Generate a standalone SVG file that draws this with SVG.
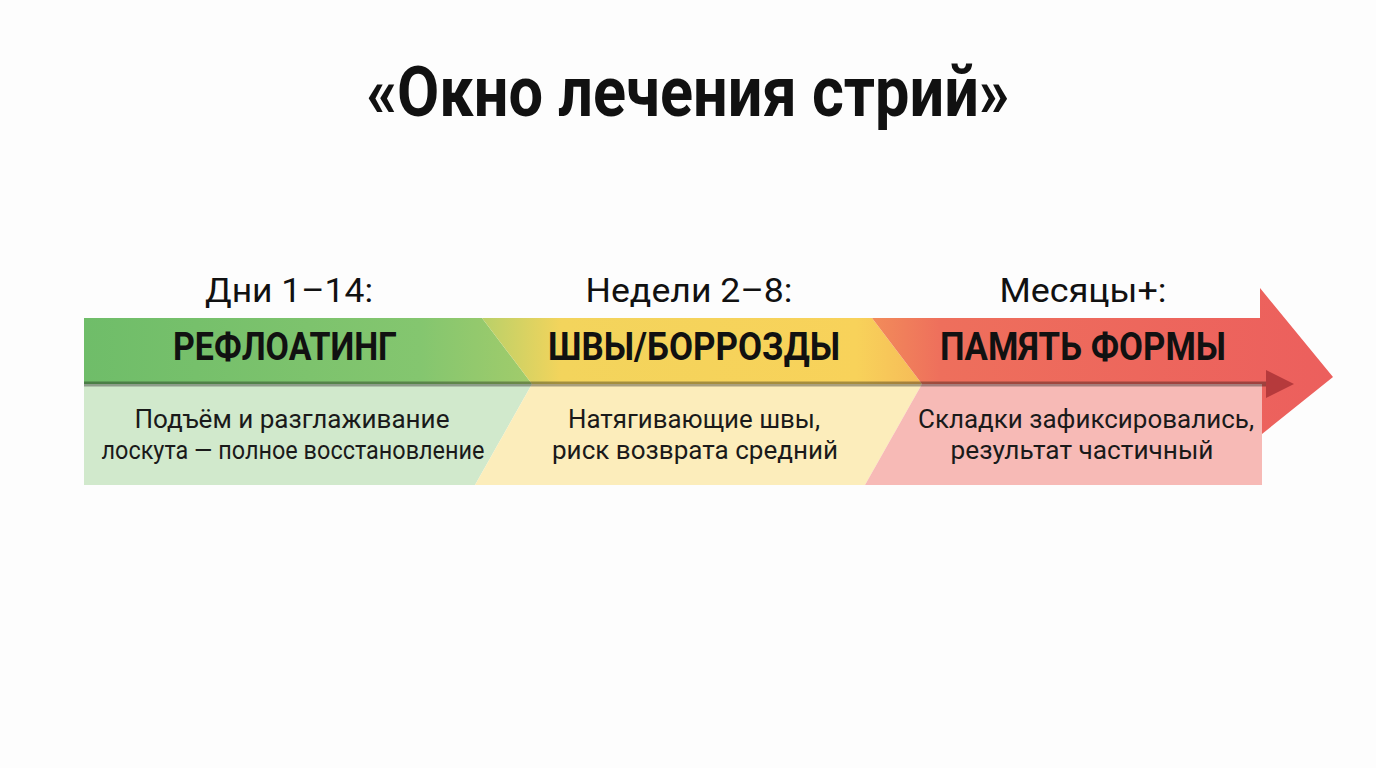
<svg xmlns="http://www.w3.org/2000/svg" width="1376" height="768" viewBox="0 0 1376 768">
<defs>
<style>
.t{font-family:Roboto,"Liberation Sans",sans-serif;fill:#111}
.title{font-size:70px;font-weight:700}
.phase{font-size:34px;font-weight:400}
.band{font-size:38px;font-weight:700}
.body{font-size:25px;font-weight:400;fill:#1a1a1a}
</style>
<linearGradient id="gGreen" x1="84" y1="0" x2="532" y2="0" gradientUnits="userSpaceOnUse">
<stop offset="0" stop-color="#6fbd69"/><stop offset="0.75" stop-color="#84c66f"/><stop offset="1" stop-color="#a2cc6b"/>
</linearGradient>
<linearGradient id="gYellow" x1="482" y1="0" x2="922" y2="0" gradientUnits="userSpaceOnUse">
<stop offset="0" stop-color="#b9d069"/><stop offset="0.18" stop-color="#f3d45c"/><stop offset="0.85" stop-color="#f8d25a"/><stop offset="1" stop-color="#f6bb58"/>
</linearGradient>
<linearGradient id="gRed" x1="872" y1="0" x2="1333" y2="0" gradientUnits="userSpaceOnUse">
<stop offset="0" stop-color="#f28c5a"/><stop offset="0.15" stop-color="#ee6f5c"/><stop offset="1" stop-color="#ec5f5d"/>
</linearGradient>
<linearGradient id="gLow" x1="84" y1="0" x2="1262" y2="0" gradientUnits="userSpaceOnUse">
<stop offset="0" stop-color="#d1e9cc"/><stop offset="1" stop-color="#d1e9cc"/>
</linearGradient>
<marker id="ah" markerWidth="8" markerHeight="8" refX="1" refY="4" orient="auto" markerUnits="userSpaceOnUse" viewBox="0 0 8 8">
<path d="M0,0 L8,4 L0,8 Z" fill="#b63a3c"/>
</marker>
</defs>
<rect width="1376" height="768" fill="#fdfdfd"/>
<text class="t title" x="688" y="116" text-anchor="middle" textLength="643" lengthAdjust="spacingAndGlyphs">«Окно лечения стрий»</text>

<g id="phase-1">
<text class="t phase" x="289" y="302" text-anchor="middle" textLength="168" lengthAdjust="spacingAndGlyphs">Дни 1–14:</text>
<polygon points="84,318 482,318 532,384 84,384" fill="url(#gGreen)"/>
<polygon points="84,384 532,384 475,485 84,485" fill="#d1e9cc"/>
<text class="t band" x="285" y="360" text-anchor="middle" textLength="224" lengthAdjust="spacingAndGlyphs">РЕФЛОАТИНГ</text>
<text class="t body" x="292" y="428" text-anchor="middle" textLength="315" lengthAdjust="spacingAndGlyphs">Подъём и разглаживание</text>
<text class="t body" x="293" y="459" text-anchor="middle" textLength="383" lengthAdjust="spacingAndGlyphs">лоскута — полное восстановление</text>
</g>

<g id="phase-2">
<text class="t phase" x="689" y="302" text-anchor="middle" textLength="207" lengthAdjust="spacingAndGlyphs">Недели 2–8:</text>
<polygon points="482,318 872,318 922,384 532,384" fill="url(#gYellow)"/>
<polygon points="532,384 922,384 865,485 475,485" fill="#fcedbb"/>
<text class="t band" x="694" y="360" text-anchor="middle" textLength="292" lengthAdjust="spacingAndGlyphs">ШВЫ/БОРРОЗДЫ</text>
<text class="t body" x="694" y="428" text-anchor="middle" textLength="252" lengthAdjust="spacingAndGlyphs">Натягивающие швы,</text>
<text class="t body" x="695" y="459" text-anchor="middle" textLength="286" lengthAdjust="spacingAndGlyphs">риск возврата средний</text>
</g>

<g id="phase-3">
<text class="t phase" x="1083" y="302" text-anchor="middle" textLength="167" lengthAdjust="spacingAndGlyphs">Месяцы+:</text>
<polygon points="872,318 1260,318 1260,288 1333,377 1262,434 1262,384 922,384" fill="url(#gRed)"/>
<polygon points="922,384 1262,384 1262,485 865,485" fill="#f7bab6"/>
<text class="t band" x="1083" y="360" text-anchor="middle" textLength="286" lengthAdjust="spacingAndGlyphs">ПАМЯТЬ ФОРМЫ</text>
<text class="t body" x="1086" y="428" text-anchor="middle" textLength="336" lengthAdjust="spacingAndGlyphs">Складки зафиксировались,</text>
<text class="t body" x="1082" y="459" text-anchor="middle" textLength="263" lengthAdjust="spacingAndGlyphs">результат частичный</text>
</g>

<g id="connectors">
<line x1="84" y1="384" x2="1266" y2="384" stroke="#000" stroke-opacity="0.33" stroke-width="5"/>
<polygon points="1266,370 1294,384 1266,398" fill="#b63a3c"/>
</g>
</svg>
